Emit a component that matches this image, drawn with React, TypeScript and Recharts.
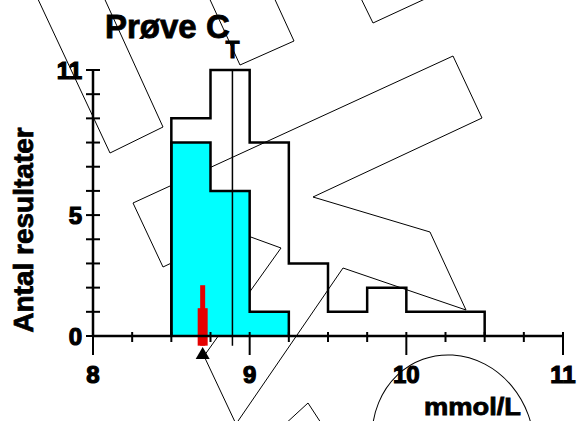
import { ComposedChart, Line, Area, XAxis, YAxis, ReferenceLine, ReferenceDot, Customized } from "recharts";

// histogram bin edges (stepAfter) and counts
const BIN_EDGES = [8.5, 8.5, 8.75, 9.0, 9.25, 9.5, 9.75, 10.0, 10.25, 10.5];
const ALL_RESULTS = [0, 9, 11, 8, 3, 1, 2, 1, 1, 0];
const CYAN_RESULTS: (number | null)[] = [0, 8, 6, 1, 0, null, null, null, null, null];

const X_TICKS = [8, 8.25, 8.5, 8.75, 9, 9.25, 9.5, 9.75, 10, 10.25, 10.5, 10.75, 11];
const X_LABELS = [8, 9, 10, 11];
const Y_TICKS = [0, 1, 2, 3, 4, 5, 6, 7, 8, 9, 10, 11];
const Y_LABELS = [0, 5, 11];

const MARKER_X = 8.7;
const MARKER_THIN = [-0.4, 2.1];
const MARKER_THICK = [-0.4, 1.15];
const MARKER_TRIANGLE_Y = -0.7;
const T_X = 8.89;
const T_SPAN = [-0.4, 11];

const TITLE = "Prøve C";
const Y_TITLE = "Antal resultater";
const X_TITLE = "mmol/L";

// background scribbles (pixel outlines, not data)
const SCRIBBLES = [
  [[29, -20], [110, 153], [163, 127], [96, -20]],
  [[201, -20], [240, 65], [294, 41], [266, -20]],
  [[352, -20], [373, 23], [466, -20]],
  [[133, 203], [453, 56], [482, 118], [313, 197], [430, 232], [466, 310], [343, 268], [236, 424], [204, 356], [281, 248], [237, 232], [163, 267]],
  [[283, 426], [308, 403], [323, 426]],
];

const FONT = '"Liberation Sans", Arial, sans-serif';
const BOLD = { fontFamily: FONT, fontWeight: 700 };

const rows = BIN_EDGES.map((x, i) => ({ x, all: ALL_RESULTS[i], cyan: CYAN_RESULTS[i] }));

function XTick(props: any) {
  const { x, y, payload } = props;
  const major = X_LABELS.includes(payload.value);
  return (
    <g>
      <line x1={x} x2={x} y1={y - 4} y2={major ? y + 19 : y + 6} stroke="#000" strokeWidth={2} />
      {major && (
        <text x={x} y={y + 47} textAnchor="middle" fontSize={24} fontWeight={700} style={BOLD} fill="#000" stroke="#000" strokeWidth={1.2}>
          {payload.value}
        </text>
      )}
    </g>
  );
}

function YTick(props: any) {
  const { x, y, payload } = props;
  const labelled = Y_LABELS.includes(payload.value);
  return (
    <g>
      <line x1={x - 7} x2={x + 7} y1={y} y2={y} stroke="#000" strokeWidth={2} />
      {labelled && (
        <text x={x - 11} y={y + 9} textAnchor="end" fontSize={24} fontWeight={700} style={BOLD} fill="#000" stroke="#000" strokeWidth={1.2}>
          {payload.value}
        </text>
      )}
    </g>
  );
}

function Overlay() {
  return (
    <g>
      {SCRIBBLES.map((pts, i) => (
        <polygon key={i} points={pts.map((p) => p.join(",")).join(" ")} fill="none" stroke="#000" strokeWidth={1} />
      ))}
      <ellipse cx={453} cy={442} rx={80} ry={88} transform="rotate(-20 453 442)" fill="none" stroke="#000" strokeWidth={1} />
      <text x={105} y={38} fontSize={33} style={BOLD} fill="#000" stroke="#000" strokeWidth={0.8}>
        {TITLE}
      </text>
      <text x={33} y={230} transform="rotate(-90 33 230)" textAnchor="middle" fontSize={28} style={BOLD} fill="#000" stroke="#000" strokeWidth={0.8}>
        {Y_TITLE}
      </text>
      <text x={424} y={415} fontSize={24} textLength={97} lengthAdjust="spacingAndGlyphs" style={BOLD} fill="#000" stroke="#000" strokeWidth={0.8}>
        {X_TITLE}
      </text>
    </g>
  );
}

function Triangle(props: any) {
  const { cx, cy } = props;
  return <path d={`M${cx},${cy - 6} L${cx + 7},${cy + 6} L${cx - 7},${cy + 6} Z`} fill="#000" />;
}

export default function App() {
  return (
    <div style={{ position: "absolute", left: 0, top: 0, width: 579, height: 421, background: "#fff" }}>
      <ComposedChart width={579} height={421} data={rows} margin={{ top: 70, right: 16, bottom: 0, left: 0 }}>
        <XAxis
          type="number"
          dataKey="x"
          domain={[8, 11]}
          ticks={X_TICKS}
          interval={0}
          height={85}
          tickSize={0}
          tickMargin={0}
          tickLine={false}
          tick={<XTick />}
          axisLine={{ stroke: "#000", strokeWidth: 2.5 }}
        />
        <YAxis
          type="number"
          domain={[0, 11]}
          ticks={Y_TICKS}
          interval={0}
          width={93}
          tickSize={0}
          tickMargin={0}
          tickLine={false}
          tick={<YTick />}
          axisLine={{ stroke: "#000", strokeWidth: 2.5 }}
        />
        <Area
          dataKey="cyan"
          type="stepAfter"
          fill="#00ffff"
          fillOpacity={1}
          stroke="#000"
          strokeWidth={2.5}
          isAnimationActive={false}
        />
        <Line dataKey="all" type="stepAfter" stroke="#000" strokeWidth={2.5} dot={false} isAnimationActive={false} />
        <ReferenceLine
          segment={[{ x: T_X, y: T_SPAN[0] }, { x: T_X, y: T_SPAN[1] }]}
          stroke="#000"
          strokeWidth={1.5}
          ifOverflow="visible"
          label={{ value: "T", position: "top", offset: 12, fontSize: 23, fontWeight: "bold", fill: "#000", stroke: "#000", strokeWidth: 0.8, fontFamily: FONT }}
        />
        <ReferenceLine
          segment={[{ x: MARKER_X, y: MARKER_THIN[0] }, { x: MARKER_X, y: MARKER_THIN[1] }]}
          stroke="#e50000"
          strokeWidth={5}
          ifOverflow="visible"
        />
        <ReferenceLine
          segment={[{ x: MARKER_X, y: MARKER_THICK[0] }, { x: MARKER_X, y: MARKER_THICK[1] }]}
          stroke="#e50000"
          strokeWidth={10}
          ifOverflow="visible"
        />
        <ReferenceDot x={MARKER_X} y={MARKER_TRIANGLE_Y} ifOverflow="visible" shape={<Triangle />} />
        <Customized component={Overlay} />
      </ComposedChart>
    </div>
  );
}
